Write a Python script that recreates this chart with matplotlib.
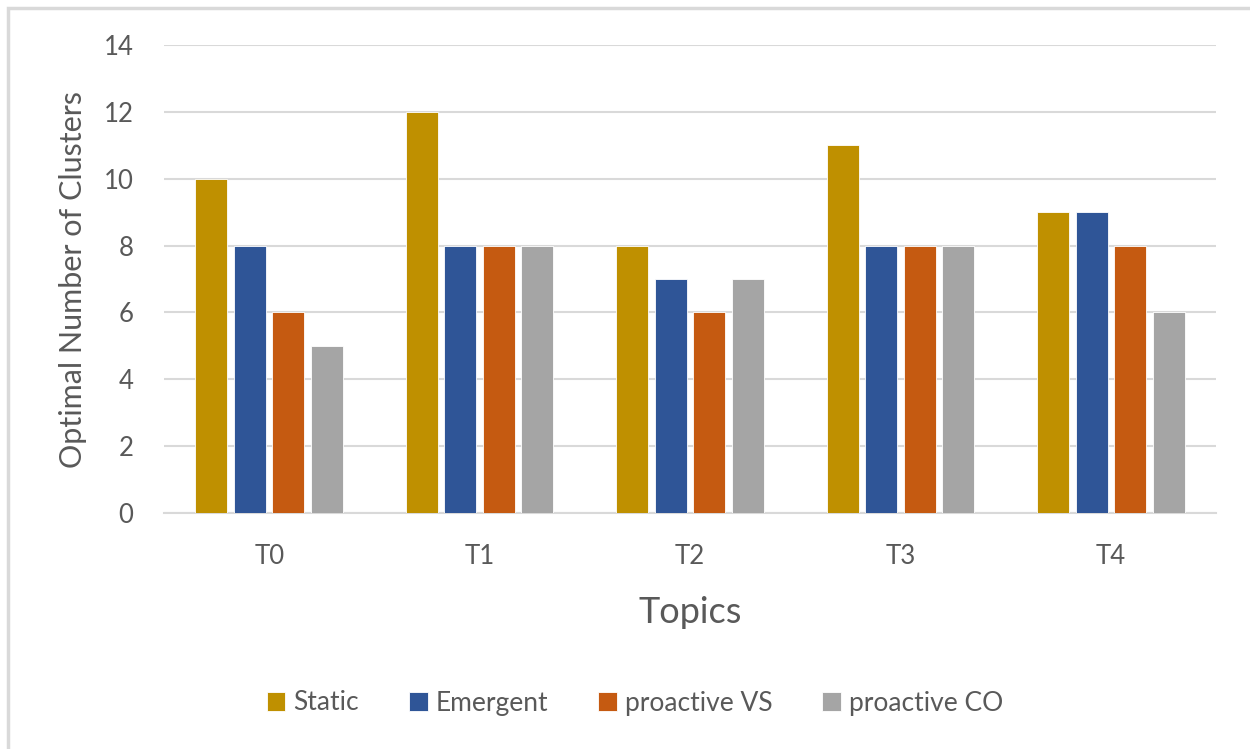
import numpy as np
import matplotlib.pyplot as plt
from matplotlib.patches import Rectangle

topics = ['T0', 'T1', 'T2', 'T3', 'T4']
static = [10, 12, 8, 11, 9]
emergent = [8, 8, 7, 8, 9]
proactive_vs = [6, 8, 6, 8, 8]
proactive_co = [5, 8, 7, 8, 6]

series = [('Static', static, '#BF9000'),
          ('Emergent', emergent, '#2F5597'),
          ('proactive VS', proactive_vs, '#C55A11'),
          ('proactive CO', proactive_co, '#A5A5A5')]

plt.rcParams['font.family'] = ['Lato', 'DejaVu Sans']
text_color = '#595959'

fig = plt.figure(figsize=(12.5, 7.49), dpi=100)
ax = fig.add_axes([164 / 1250, 1 - 513 / 749, (1216 - 164) / 1250, (513 - 45) / 749])

# outer chart border (only top/left visible in the reference)
fig.patches.append(Rectangle((8 / 1250, -0.05), 1.2, 1 - 8 / 749 + 0.05,
                             transform=fig.transFigure, fill=False,
                             edgecolor='#D9D9D9', linewidth=2.5))

x = np.arange(len(topics))
slot = 0.183
width = 0.152
for i, (name, vals, col) in enumerate(series):
    ax.bar(x + (i - 1.5) * slot, vals, width, color=col, label=name,
           edgecolor='white', linewidth=0.6, zorder=3)

ax.set_xlim(-0.5, len(topics) - 0.5)
ax.set_ylim(0, 14)
ax.set_yticks(range(0, 15, 2))
ax.set_xticks(x)
ax.set_xticklabels(topics)
ax.yaxis.grid(True, color='#D9D9D9', linewidth=1.5, zorder=0)
ax.set_axisbelow(True)
for s in ['top', 'right', 'left']:
    ax.spines[s].set_visible(False)
ax.spines['bottom'].set_color('#D9D9D9')
ax.spines['bottom'].set_linewidth(1.5)
ax.tick_params(axis='both', length=0, colors=text_color, labelsize=18.5)
ax.tick_params(axis='y', pad=22)
ax.tick_params(axis='x', pad=22)

ax.set_ylabel('Optimal Number of Clusters', fontsize=22, color=text_color, labelpad=12)
ax.set_xlabel('Topics', fontsize=26, color=text_color, labelpad=20)

leg = fig.legend(loc='center', bbox_to_anchor=(0.508, 1 - 703 / 749), ncol=4,
                 frameon=False, fontsize=19, handlelength=0.7, handleheight=0.7,
                 handletextpad=0.3, columnspacing=1.9)
for t in leg.get_texts():
    t.set_color(text_color)

fig.savefig('out.png', dpi=100)
